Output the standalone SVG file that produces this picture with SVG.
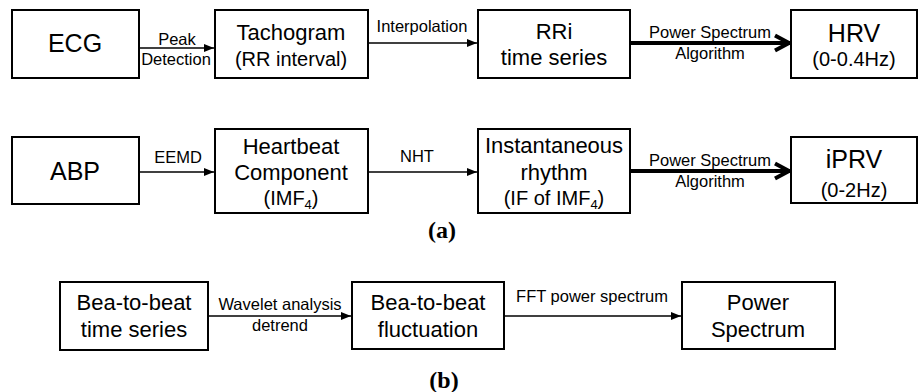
<svg xmlns="http://www.w3.org/2000/svg" width="918" height="392" viewBox="0 0 918 392">
<defs>
<style>
.box{fill:#fff;stroke:#000;stroke-width:2}
.t{font-family:"Liberation Sans",Arial,sans-serif;fill:#000;text-anchor:middle}
.big{font-size:25px}
.n{font-size:22px}
.s{font-size:20px}
.l{font-size:16.5px}
.thin{stroke:#000;stroke-width:1.6;fill:none}
.thick{stroke:#000;stroke-width:4;fill:none}
.cap{font-family:"Liberation Serif","Times New Roman",serif;font-weight:bold;font-size:24px;text-anchor:middle;fill:#000}
</style>
<marker id="ah" markerUnits="userSpaceOnUse" markerWidth="12" markerHeight="10" refX="10" refY="5" orient="auto">
<path d="M0,1 L10,5 L0,9 Z" fill="#000"/>
</marker>
<marker id="ahb" markerUnits="userSpaceOnUse" markerWidth="24" markerHeight="20" refX="20" refY="10" orient="auto">
<path d="M5,2.5 L19,10 L5,17.5" fill="none" stroke="#000" stroke-width="4"/>
</marker>
</defs>
<rect width="918" height="392" fill="#fff"/>

<g id="connectors">
<line class="thin" x1="139" y1="48" x2="214" y2="48" marker-end="url(#ah)"/>
<line class="thin" x1="368" y1="43" x2="477" y2="43" marker-end="url(#ah)"/>
<line class="thick" x1="630" y1="43" x2="790" y2="43" marker-end="url(#ahb)"/>
<line class="thin" x1="139" y1="172" x2="214" y2="172" marker-end="url(#ah)"/>
<line class="thin" x1="368" y1="172" x2="477" y2="172" marker-end="url(#ah)"/>
<line class="thick" x1="630" y1="171" x2="790" y2="171" marker-end="url(#ahb)"/>
<line class="thin" x1="208" y1="316" x2="351" y2="316" marker-end="url(#ah)"/>
<line class="thin" x1="504" y1="316" x2="681" y2="316" marker-end="url(#ah)"/>
<text class="t l" x="177" y="45">Peak</text>
<text class="t l" x="176" y="65">Detection</text>
<text class="t l" x="422" y="32">Interpolation</text>
<text class="t l" x="710" y="38">Power Spectrum</text>
<text class="t l" x="710" y="59">Algorithm</text>
<text class="t l" x="178" y="163">EEMD</text>
<text class="t l" x="417" y="162">NHT</text>
<text class="t l" x="710" y="166">Power Spectrum</text>
<text class="t l" x="710" y="187">Algorithm</text>
<text class="t l" x="280" y="310">Wavelet analysis</text>
<text class="t l" x="280" y="331">detrend</text>
<text class="t l" x="592" y="302">FFT power spectrum</text>
</g>

<g id="ecg"><rect class="box" x="12" y="10" width="127" height="68"/><text class="t big" x="75" y="52">ECG</text></g>
<g id="tachogram"><rect class="box" x="215" y="10" width="153" height="68"/><text class="t n" x="291" y="40">Tachogram</text><text class="t s" x="291" y="66">(RR interval)</text></g>
<g id="rri"><rect class="box" x="478" y="10" width="152" height="68"/><text class="t n" x="554" y="39">RRi</text><text class="t n" x="554" y="65">time series</text></g>
<g id="hrv"><rect class="box" x="791" y="10" width="126" height="68"/><text class="t big" x="854" y="42">HRV</text><text class="t s" x="854" y="66">(0-0.4Hz)</text></g>

<g id="abp"><rect class="box" x="12" y="137" width="127" height="67"/><text class="t big" x="75" y="180">ABP</text></g>
<g id="heartbeat"><rect class="box" x="215" y="129" width="153" height="84"/><text class="t n" x="291" y="154">Heartbeat</text><text class="t n" x="291" y="180">Component</text><text class="t s" x="291" y="205">(IMF<tspan font-size="13" dy="4">4</tspan><tspan dy="-4">)</tspan></text></g>
<g id="instantaneous"><rect class="box" x="478" y="129" width="152" height="84"/><text class="t n" x="554" y="153">Instantaneous</text><text class="t n" x="554" y="180">rhythm</text><text class="t s" x="554" y="205">(IF of IMF<tspan font-size="13" dy="4">4</tspan><tspan dy="-4">)</tspan></text></g>
<g id="iprv"><rect class="box" x="791" y="137" width="126" height="66"/><text class="t big" x="854" y="168">iPRV</text><text class="t s" x="854" y="197">(0-2Hz)</text></g>

<text class="cap" x="442" y="238">(a)</text>

<g id="b1"><rect class="box" x="60" y="282" width="148" height="68"/><text class="t n" x="134" y="310">Bea-to-beat</text><text class="t n" x="134" y="337">time series</text></g>
<g id="b2"><rect class="box" x="352" y="282" width="152" height="67"/><text class="t n" x="428" y="310">Bea-to-beat</text><text class="t n" x="428" y="337">fluctuation</text></g>
<g id="b3"><rect class="box" x="682" y="282" width="153" height="67"/><text class="t n" x="758" y="310">Power</text><text class="t n" x="758" y="337">Spectrum</text></g>

<text class="cap" x="444" y="388">(b)</text>
</svg>
